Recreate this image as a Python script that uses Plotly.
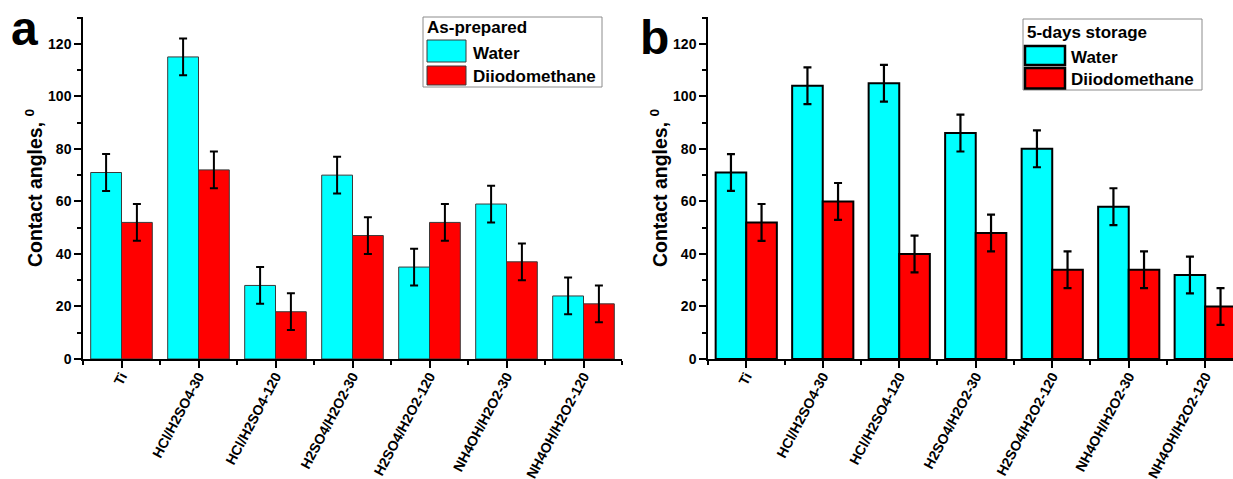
import plotly.graph_objects as go

# ---------------- data ----------------
categories = ["Ti", "HCl/H2SO4-30", "HCl/H2SO4-120", "H2SO4/H2O2-30",
              "H2SO4/H2O2-120", "NH4OH/H2O2-30", "NH4OH/H2O2-120"]
series_names = ["Water", "Diiodomethane"]
panel_titles = ["As-prepared", "5-days storage"]
panel_letters = ["a", "b"]

asprep_water = [71, 115, 28, 70, 35, 59, 24]
asprep_water_err = [7, 7, 7, 7, 7, 7, 7]
asprep_diiodo = [52, 72, 18, 47, 52, 37, 21]
asprep_diiodo_err = [7, 7, 7, 7, 7, 7, 7]

storage_water = [71, 104, 105, 86, 80, 58, 32]
storage_water_err = [7, 7, 7, 7, 7, 7, 7]
storage_diiodo = [52, 60, 40, 48, 34, 34, 20]
storage_diiodo_err = [7, 7, 7, 7, 7, 7, 7]

y_ticks = [0, 20, 40, 60, 80, 100, 120]

# ---------------- layout helpers ----------------
W, H = 1233, 479
def px(x):
    return x / W
def py(y):
    return 1 - y / H

CYAN = "#00FFFF"
RED = "#FF0000"
FONT = "Liberation Sans"
xidx = list(range(len(categories)))

fig = go.Figure()

panels = [
    dict(water=asprep_water, werr=asprep_water_err, diiodo=asprep_diiodo, derr=asprep_diiodo_err,
         xa="x", ya="y", lc="#3a3a3a", lw=1, ew=2),
    dict(water=storage_water, werr=storage_water_err, diiodo=storage_diiodo, derr=storage_diiodo_err,
         xa="x2", ya="y2", lc="#000000", lw=2, ew=2.2),
]

for p in panels:
    for name, vals, errs, col in [(series_names[0], p["water"], p["werr"], CYAN),
                                  (series_names[1], p["diiodo"], p["derr"], RED)]:
        fig.add_trace(go.Bar(
            x=xidx, y=vals, name=name, xaxis=p["xa"], yaxis=p["ya"],
            marker=dict(color=col, line=dict(color=p["lc"], width=p["lw"])),
            error_y=dict(type="data", array=errs, visible=True, color="black",
                         thickness=p["ew"], width=4),
            showlegend=False,
        ))

ytickfont = dict(family=FONT, size=14, color="black", weight="bold")
xtickfont = dict(family=FONT, size=14, color="black", weight="bold")

def xaxis_cfg(dom, rng, anchor):
    return dict(domain=dom, range=rng, anchor=anchor, automargin=False,
                tickmode="array", tickvals=xidx, ticktext=categories,
                tickangle=-62, tickfont=xtickfont, ticklabelstandoff=-5,
                ticks="outside", ticklen=7, tickwidth=1.5, tickcolor="black",
                minor=dict(tick0=0.5, dtick=1, ticks="outside", ticklen=4,
                           tickwidth=1.5, tickcolor="black"),
                showline=True, linecolor="black", linewidth=1.5,
                showgrid=False, zeroline=False)

def yaxis_cfg(anchor, standoff):
    return dict(domain=[py(359), py(17)], range=[0, 130.2], anchor=anchor, automargin=False,
                tickmode="array", tickvals=y_ticks, tickfont=ytickfont,
                ticks="outside", ticklen=7, tickwidth=1.5, tickcolor="black",
                minor=dict(dtick=10, tick0=0, ticks="outside", ticklen=4,
                           tickwidth=1.5, tickcolor="black"),
                showline=True, linecolor="black", linewidth=1.5,
                showgrid=False, zeroline=False,
                title=dict(text="Contact angles, <sup>0</sup>",
                           font=dict(family=FONT, size=19.5, color="black", weight="bold"),
                           standoff=standoff))

fig.update_layout(
    width=W, height=H,
    margin=dict(l=0, r=0, t=0, b=0),
    paper_bgcolor="white", plot_bgcolor="white",
    barmode="group", bargap=0.2, bargroupgap=0,
    showlegend=False,
    xaxis=xaxis_cfg([px(83), px(622)], [-0.5, 6.5], "y"),
    yaxis=yaxis_cfg("x", 0),
    xaxis2=xaxis_cfg([px(708), 1.0], [-0.5, 6.363], "y2"),
    yaxis2=yaxis_cfg("x2", 0),
)

# ---------------- manual legends ----------------
shapes = []
annotations = []
legends = [
    dict(box=(423, 17, 602, 87), title_xy=(425, 28), sw_x=(427, 466),
         sw_y=[(40, 62), (66, 85)], txt_x=471, txt_y=[53, 76.5],
         sw_lc="#3a3a3a", sw_lw=1),
    dict(box=(1023, 19, 1202, 90), title_xy=(1025, 32.5), sw_x=(1025, 1065),
         sw_y=[(46, 65), (68, 88.5)], txt_x=1069, txt_y=[57.4, 79],
         sw_lc="#000000", sw_lw=2.5),
]
for i, lg in enumerate(legends):
    x0, y0, x1, y1 = lg["box"]
    shapes.append(dict(type="rect", xref="paper", yref="paper",
                       x0=px(x0), x1=px(x1), y0=py(y1), y1=py(y0),
                       line=dict(color="#8c8c8c", width=1), fillcolor="white", layer="above"))
    annotations.append(dict(text=panel_titles[i], xref="paper", yref="paper",
                            x=px(lg["title_xy"][0]), y=py(lg["title_xy"][1]),
                            xanchor="left", yanchor="middle", showarrow=False,
                            font=dict(family=FONT, size=17, color="black", weight="bold")))
    for j, col in enumerate([CYAN, RED]):
        sy0, sy1 = lg["sw_y"][j]
        shapes.append(dict(type="rect", xref="paper", yref="paper",
                           x0=px(lg["sw_x"][0]), x1=px(lg["sw_x"][1]),
                           y0=py(sy1), y1=py(sy0),
                           line=dict(color=lg["sw_lc"], width=lg["sw_lw"]),
                           fillcolor=col, layer="above"))
        annotations.append(dict(text=series_names[j], xref="paper", yref="paper",
                                x=px(lg["txt_x"]), y=py(lg["txt_y"][j]),
                                xanchor="left", yanchor="middle", showarrow=False,
                                font=dict(family=FONT, size=17, color="black", weight="bold")))

# panel letters (top-anchored so the text box stays inside the page)
for letter, (lx, ly) in zip(panel_letters, [(25, 0), (654, 9.5)]):
    annotations.append(dict(text=letter, xref="paper", yref="paper",
                            x=px(lx), y=py(ly), xanchor="center", yanchor="top",
                            showarrow=False,
                            font=dict(family=FONT, size=48, color="black", weight="bold")))

fig.update_layout(shapes=shapes, annotations=annotations)

fig.write_html("out.html")
